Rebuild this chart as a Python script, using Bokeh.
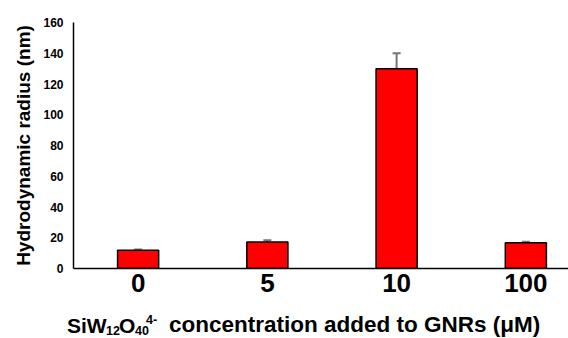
from bokeh.plotting import figure
from bokeh.layouts import column
from bokeh.models import ColumnDataSource, Range1d, FixedTicker, Whisker, TeeHead, Div
from bokeh.embed import file_html
from bokeh.resources import INLINE

categories = ["0", "5", "10", "100"]
radius = [11.8, 17.3, 130.0, 16.7]
errors = [0.5, 1.0, 10.0, 0.7]
y_ticks = [0, 20, 40, 60, 80, 100, 120, 140, 160]

xs = list(range(len(categories)))
src = ColumnDataSource(dict(
    x=xs, top=radius,
    lower=[v - e for v, e in zip(radius, errors)],
    upper=[v + e for v, e in zip(radius, errors)],
))

FONT = "Liberation Sans"
W = 568
H_MAIN = 312
H_TITLE = 26

p = figure(width=W, height=H_MAIN, output_backend="svg", toolbar_location=None,
           x_range=Range1d(-0.5, 3.33), y_range=Range1d(0, 160),
           min_border_left=73, min_border_right=0, min_border_top=22, min_border_bottom=44)
p.outline_line_color = None
p.grid.visible = False
p.background_fill_color = "white"
p.border_fill_color = "white"

p.vbar(x="x", top="top", bottom=0, width=0.318, source=src,
       fill_color="#ff0000", line_color="black", line_width=1.5)

w = Whisker(source=src, base="x", lower="lower", upper="upper",
            line_color="#767676", line_width=2,
            upper_head=TeeHead(size=8, line_color="#767676", line_width=2),
            lower_head=TeeHead(size=8, line_color="#767676", line_width=2))
p.add_layout(w)

# y axis
p.yaxis.ticker = FixedTicker(ticks=y_ticks)
p.yaxis.major_tick_out = 0
p.yaxis.major_tick_in = 0
p.yaxis.minor_tick_out = 0
p.yaxis.minor_tick_in = 0
p.yaxis.major_label_standoff = 10
p.yaxis.major_label_text_font = FONT
p.yaxis.major_label_text_font_style = "bold"
p.yaxis.major_label_text_font_size = "12px"
p.yaxis.major_label_text_color = "black"
p.yaxis.axis_line_color = "black"
p.yaxis.axis_line_width = 1.5
p.yaxis.axis_label = "Hydrodynamic radius (nm)"
p.yaxis.axis_label_text_font = FONT
p.yaxis.axis_label_text_font_style = "bold"
p.yaxis.axis_label_text_font_size = "19px"
p.yaxis.axis_label_text_color = "black"
p.yaxis.axis_label_standoff = 6

# x axis
p.xaxis.ticker = FixedTicker(ticks=xs)
p.xaxis.major_label_overrides = {i: c for i, c in zip(xs, categories)}
p.xaxis.major_tick_out = 0
p.xaxis.major_tick_in = 0
p.xaxis.minor_tick_out = 0
p.xaxis.minor_tick_in = 0
p.xaxis.major_label_standoff = 5
p.xaxis.major_label_text_font = FONT
p.xaxis.major_label_text_font_style = "bold"
p.xaxis.major_label_text_font_size = "26px"
p.xaxis.major_label_text_color = "black"
p.xaxis.axis_line_color = "black"
p.xaxis.axis_line_width = 1.5

# x-axis title with subscripts / superscript (HTML strip under the plot)
# (text, left px, baseline px within strip, font size px)
pieces = [
    ("SiW", 67, 21, 21),
    ("12", 106, 23.5, 12.5),
    ("O", 119, 21, 21),
    ("40", 135, 23.5, 12.5),
    ("4-", 146, 13, 12.5),
    ("concentration added to GNRs (\u03bcM)", 169, 21, 22.5),
]
spans = []
for txt, left, base, size in pieces:
    top = base - 0.8465 * size
    spans.append(
        f'<span style="position:absolute;left:{left}px;top:{top:.1f}px;'
        f'font-family:\'{FONT}\';font-weight:bold;font-size:{size}px;'
        f'line-height:1;white-space:nowrap;color:black;">{txt}</span>'
    )
html = (f'<div style="position:relative;width:{W}px;height:{H_TITLE}px;overflow:visible;">'
        + "".join(spans) + "</div>")
title = Div(text=html, width=W, height=H_TITLE, margin=(0, 0, 0, 0))

layout = column(p, title, spacing=0)
open("out.html", "w").write(file_html(layout, INLINE))
